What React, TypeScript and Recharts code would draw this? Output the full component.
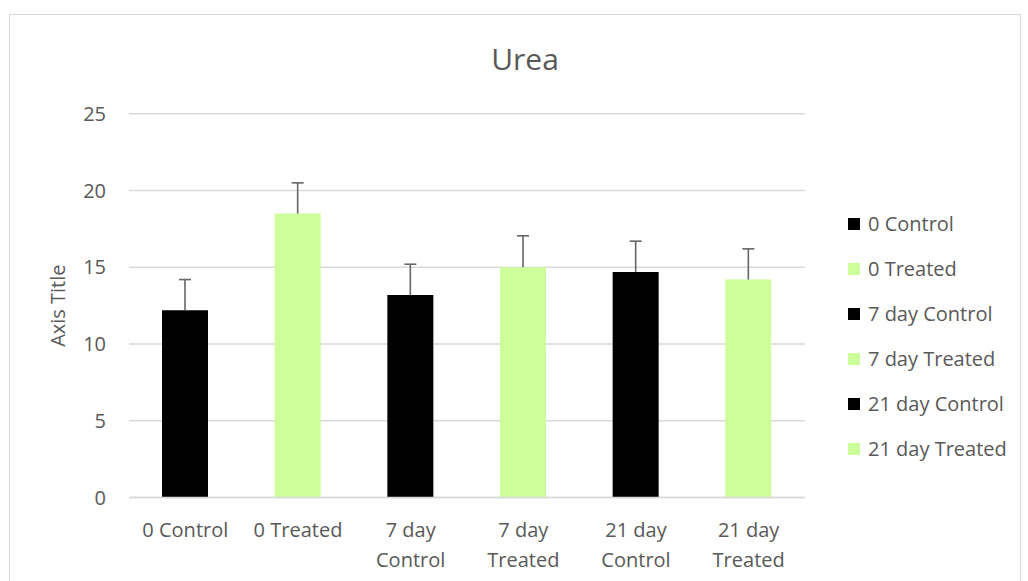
import React from 'react';
import { BarChart, Bar, Cell, XAxis, YAxis, CartesianGrid, Label } from 'recharts';

// values
const categories = ['0 Control', '0 Treated', '7 day Control', '7 day Treated', '21 day Control', '21 day Treated'];
const ureaValues = [12.2, 18.5, 13.2, 15.0, 14.7, 14.2];
const errorValues = [2.0, 2.0, 2.0, 2.05, 2.0, 2.0];
const barColors = ['#000000', '#CCFF99', '#000000', '#CCFF99', '#000000', '#CCFF99'];
const yTicks = [0, 5, 10, 15, 20, 25];

const chartData = categories.map((name, i) => ({
  name,
  value: ureaValues[i],
  err: errorValues[i],
}));

const FONT = '"Open Sans", sans-serif';
const TEXT = '#595959';

// split long labels the way Excel wraps them: "7 day" / "Control"
function XTick(props: any) {
  const { x, y, payload } = props;
  const words = String(payload.value).split(' ');
  const lines = words.length > 2 ? [words.slice(0, 2).join(' '), words.slice(2).join(' ')] : [payload.value];
  return (
    <text x={x} y={y + 39} textAnchor="middle" fill={TEXT} fontSize={20} fontFamily={FONT}>
      {lines.map((l: string, i: number) => (
        <tspan key={i} x={x} dy={i === 0 ? 0 : 30}>{l}</tspan>
      ))}
    </text>
  );
}

// the stacked "err" bar is drawn as a plus-only error whisker
function ErrorShape(props: any) {
  const { x, y, width, height } = props;
  const cx = x + width / 2;
  return (
    <g stroke="#666666" strokeWidth={1.6}>
      <line x1={cx} x2={cx} y1={y + height} y2={y} />
      <line x1={cx - 6} x2={cx + 6} y1={y} y2={y} />
    </g>
  );
}

function YTitle(props: any) {
  const vb = props.viewBox;
  const bx = vb.x + 65;
  const cy = vb.y + vb.height / 2;
  return (
    <text x={bx} y={cy} textAnchor="middle" fill={TEXT} fontSize={20} fontFamily={FONT}
      transform={`rotate(-90, ${bx}, ${cy})`}>
      Axis Title
    </text>
  );
}

export default function App() {
  return (
    <div style={{ position: 'relative', width: 1028, height: 581, overflow: 'hidden', background: '#fff' }}>
      <style>{'body{margin:0;overflow:hidden}'}</style>
      <div style={{ position: 'absolute', left: 9, top: 14, width: 1010, height: 620, border: '1.5px solid #d9d9d9' }} />
      <div style={{ position: 'absolute', left: 0, top: 0 }}>
        <BarChart width={1028} height={581} data={chartData}
          margin={{ top: 113.8, right: 223, bottom: 0, left: 0 }}>
          <CartesianGrid vertical={false} stroke="#d9d9d9" strokeWidth={1.5} />
          <XAxis dataKey="name" height={83.5} tick={<XTick />} tickLine={false} tickSize={0} tickMargin={0}
            axisLine={{ stroke: '#d9d9d9', strokeWidth: 1.5 }} interval={0} />
          <YAxis width={129} domain={[0, 25]} ticks={yTicks} axisLine={false} tickLine={false}
            tickSize={0} tickMargin={23}
            tick={{ fill: TEXT, fontSize: 20, fontFamily: FONT }}>
            <Label content={<YTitle />} />
          </YAxis>
          <Bar dataKey="value" stackId="a" barSize={46} isAnimationActive={false}>
            {chartData.map((d, i) => (
              <Cell key={d.name} fill={barColors[i]} />
            ))}
          </Bar>
          <Bar dataKey="err" stackId="a" barSize={46} fill="none" shape={<ErrorShape />} isAnimationActive={false} />
        </BarChart>
      </div>
      <svg width={1028} height={581} style={{ position: 'absolute', left: 0, top: 0, pointerEvents: 'none' }}>
        <text x={525} y={70} textAnchor="middle" fill={TEXT} fontSize={30} fontFamily={FONT}>Urea</text>
        {categories.map((name, i) => {
          const cy = 224 + i * 45;
          return (
            <g key={name}>
              <rect x={848} y={cy - 6} width={12} height={12} fill={barColors[i]} />
              <text x={868} y={cy + 7} fill={TEXT} fontSize={20} fontFamily={FONT}>{name}</text>
            </g>
          );
        })}
      </svg>
    </div>
  );
}
